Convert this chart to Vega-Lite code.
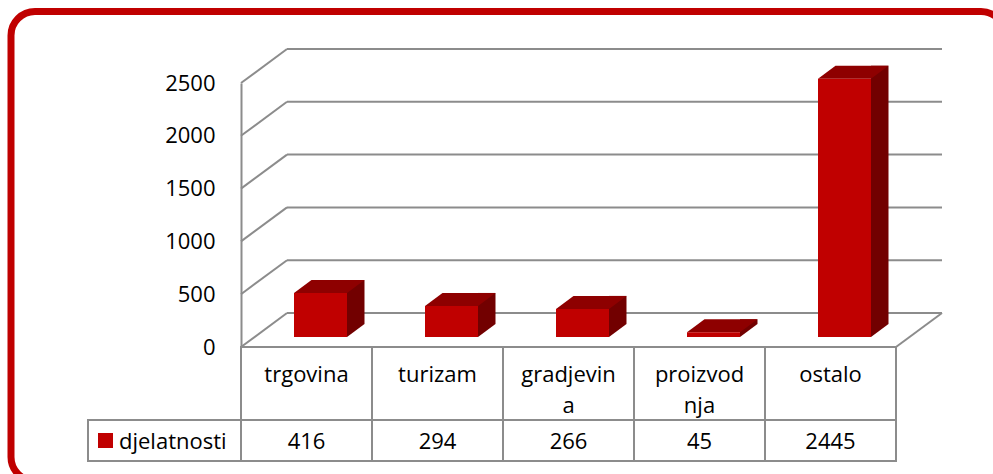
{
  "$schema": "https://vega.github.io/schema/vega-lite/v6.json",
  "autosize": {"type": "none"},
  "width": 655,
  "height": 264,
  "padding": {"left": 241, "top": 83, "right": 97, "bottom": 127},
  "background": "white",
  "config": {"view": {"stroke": null}, "font": "Open Sans"},
  "data": {"values": [
    {"category": "trgovina", "value": 416},
    {"category": "turizam", "value": 294},
    {"category": "gradjevina", "value": 266},
    {"category": "proizvodnja", "value": 45},
    {"category": "ostalo", "value": 2445}
  ]},
  "datasets": {
    "ticks": [{"t": 0}, {"t": 500}, {"t": 1000}, {"t": 1500}, {"t": 2000}, {"t": 2500}],
    "one": [{"series": "djelatnosti"}]
  },
  "encoding": {
    "x": {"field": "category", "type": "nominal", "sort": null,
      "scale": {"domain": ["trgovina", "turizam", "gradjevina", "proizvodnja", "ostalo"], "paddingInner": 0, "paddingOuter": 0},
      "axis": null}
  },
  "layer": [
    {
      "data": {"name": "one"},
      "mark": {"type": "bar", "width": 994, "xOffset": 201.5, "yOffset": -71.5, "y2Offset": 134, "cornerRadius": 24, "fill": "transparent", "stroke": "#C00000", "strokeWidth": 7},
      "encoding": {"x": {"datum": "trgovina"}, "y": {"datum": 2500}, "y2": {"datum": 0}}
    },
    {
      "data": {"name": "ticks"},
      "mark": {"type": "rule", "color": "#8c8c8c", "strokeWidth": 2, "xOffset": -19.5, "x2Offset": 111.5, "yOffset": -34},
      "encoding": {"x": {"datum": "trgovina"}, "x2": {"datum": "ostalo"}, "y": {"field": "t", "type": "quantitative"}}
    },
    {
      "data": {"name": "ticks"},
      "mark": {"type": "rule", "color": "#8c8c8c", "strokeWidth": 2, "xOffset": -65.5, "x2Offset": -19.5, "y2Offset": -34},
      "encoding": {"x": {"datum": "trgovina"}, "x2": {"datum": "trgovina"}, "y": {"field": "t", "type": "quantitative"}, "y2": {"field": "t"}}
    },
    {
      "data": {"name": "one"},
      "mark": {"type": "rule", "color": "#8c8c8c", "strokeWidth": 2, "xOffset": 65.5, "x2Offset": 111.5, "y2Offset": -34},
      "encoding": {"x": {"datum": "ostalo"}, "x2": {"datum": "ostalo"}, "y": {"datum": 0}, "y2": {"datum": 0}}
    },
    {
      "mark": {"type": "bar", "width": {"band": 1}, "y2Offset": 73, "fill": "white", "stroke": "#8c8c8c", "strokeWidth": 2},
      "encoding": {"y": {"datum": 0, "type": "quantitative", "scale": {"domain": [0, 2500], "nice": false},
        "axis": {"title": null, "grid": false, "ticks": false, "domain": true, "domainColor": "#8c8c8c", "domainWidth": 2, "labelFont": "Open Sans", "labelFontSize": 22, "labelColor": "black", "labelPadding": 26, "values": [0, 500, 1000, 1500, 2000, 2500], "format": "d"}},
        "y2": {"datum": 0}}
    },
    {
      "mark": {"type": "bar", "width": {"band": 1}, "yOffset": 73, "y2Offset": 114, "fill": "white", "stroke": "#8c8c8c", "strokeWidth": 2},
      "encoding": {"y": {"datum": 0}, "y2": {"datum": 0}}
    },
    {
      "data": {"name": "one"},
      "mark": {"type": "bar", "width": 153, "xOffset": -142, "yOffset": 73, "y2Offset": 114, "fill": "white", "stroke": "#8c8c8c", "strokeWidth": 2},
      "encoding": {"x": {"datum": "trgovina"}, "y": {"datum": 0}, "y2": {"datum": 0}}
    },
    {
      "transform": [{"calculate": "datum.category == 'gradjevina' ? 'gradjevin\\na' : datum.category == 'proizvodnja' ? 'proizvod\\nnja' : datum.category", "as": "label"}],
      "mark": {"type": "text", "font": "Open Sans", "fontSize": 22, "color": "black", "baseline": "alphabetic", "yOffset": 35, "lineBreak": "\n", "lineHeight": 31},
      "encoding": {"y": {"datum": 0}, "text": {"field": "label"}}
    },
    {
      "mark": {"type": "text", "font": "Open Sans", "fontSize": 22, "color": "black", "baseline": "alphabetic", "yOffset": 102},
      "encoding": {"y": {"datum": 0}, "text": {"field": "value", "type": "quantitative", "format": "d"}}
    },
    {
      "data": {"name": "one"},
      "mark": {"type": "point", "shape": "square", "filled": true, "opacity": 1, "size": 225, "color": "#C00000", "xOffset": -201, "yOffset": 93.5},
      "encoding": {"x": {"datum": "trgovina"}, "y": {"datum": 0}}
    },
    {
      "data": {"name": "one"},
      "mark": {"type": "text", "font": "Open Sans", "fontSize": 22, "color": "black", "align": "left", "baseline": "alphabetic", "xOffset": -187.5, "yOffset": 102},
      "encoding": {"x": {"datum": "trgovina"}, "y": {"datum": 0}, "text": {"field": "series"}}
    },
    {
      "mark": {"type": "bar", "size": 17.5, "xOffset": 49.25, "yOffset": -23, "y2Offset": -23, "color": "#720000"},
      "encoding": {"y": {"field": "value", "type": "quantitative"}, "y2": {"datum": 0}}
    },
    {
      "mark": {"type": "point", "shape": "M0 0 L0 -13 L17.5 -13 Z", "size": 4, "filled": true, "opacity": 1, "strokeWidth": 0, "color": "#720000", "xOffset": 40.5, "yOffset": -10},
      "encoding": {"y": {"datum": 0}}
    },
    {
      "mark": {"type": "point", "shape": "M0 0 L53 0 L70.5 -13 L17.5 -13 Z", "size": 4, "filled": true, "opacity": 1, "strokeWidth": 0, "color": "#8E0000", "xOffset": -12.5, "yOffset": -10},
      "encoding": {"y": {"field": "value", "type": "quantitative"}}
    },
    {
      "mark": {"type": "bar", "size": 53, "xOffset": 14, "yOffset": -10, "y2Offset": -10, "color": "#C00000"},
      "encoding": {"y": {"field": "value", "type": "quantitative"}, "y2": {"datum": 0}}
    }
  ]
}
